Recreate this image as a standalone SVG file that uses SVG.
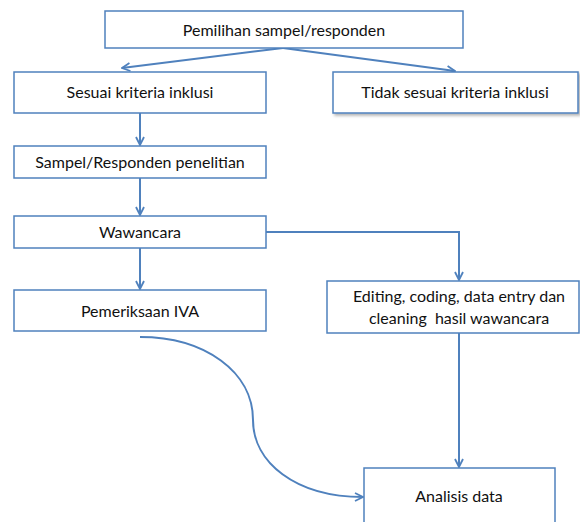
<svg xmlns="http://www.w3.org/2000/svg" width="580" height="522" viewBox="0 0 580 522">
<defs>
<style>
.box{fill:#fff;stroke:#4F81BD;stroke-width:1.5}
.lbl{font-family:Lato,"Liberation Sans",sans-serif;font-size:16px;fill:#111;text-anchor:middle}
.con{fill:none;stroke:#4F81BD;stroke-width:2}
</style>
<marker id="arr" viewBox="0 0 10 10" refX="9" refY="5" markerWidth="10" markerHeight="10" markerUnits="userSpaceOnUse" orient="auto">
<path d="M1,1 L9,5 L1,9" fill="none" stroke="#4F81BD" stroke-width="1.8"/>
</marker>
<filter id="sh" x="-5%" y="-20%" width="115%" height="150%">
<feDropShadow dx="2" dy="2" stdDeviation="1.5" flood-color="#000" flood-opacity="0.3"/>
</filter>
</defs>
<rect width="580" height="522" fill="#fff"/>
<g id="connectors">
<path class="con" d="M283,48 L122,68" marker-end="url(#arr)"/>
<path class="con" d="M283,48 L455,71" marker-end="url(#arr)"/>
<path class="con" d="M140,113 L140,145" marker-end="url(#arr)"/>
<path class="con" d="M140,178 L140,215" marker-end="url(#arr)"/>
<path class="con" d="M140,248 L140,289" marker-end="url(#arr)"/>
<path class="con" d="M266,232 L459,232 L459,280" marker-end="url(#arr)"/>
<path class="con" d="M459,333 L459,467" marker-end="url(#arr)"/>
<path class="con" d="M140,337 C205,337 253,372 253,420 C253,462 295,497 363,497" marker-end="url(#arr)"/>
</g>
<g id="n1"><rect class="box" x="105" y="11" width="358" height="37"/><text class="lbl" x="284" y="36">Pemilihan sampel/responden</text></g>
<g id="n2"><rect class="box" x="14" y="72" width="252" height="41"/><text class="lbl" x="140" y="98">Sesuai kriteria inklusi</text></g>
<g id="n3"><rect class="box" x="333" y="72" width="245" height="41" filter="url(#sh)"/><text class="lbl" x="455" y="98">Tidak sesuai kriteria inklusi</text></g>
<g id="n4"><rect class="box" x="14" y="146" width="252" height="32"/><text class="lbl" x="140" y="168">Sampel/Responden penelitian</text></g>
<g id="n5"><rect class="box" x="14" y="216" width="252" height="32"/><text class="lbl" x="140" y="238">Wawancara</text></g>
<g id="n6"><rect class="box" x="14" y="290" width="252" height="41"/><text class="lbl" x="140" y="317">Pemeriksaan IVA</text></g>
<g id="n7"><rect class="box" x="327" y="281" width="252" height="52"/><text class="lbl" x="459" y="302">Editing, coding, data entry dan</text><text class="lbl" x="459" y="324" xml:space="preserve">cleaning  hasil wawancara</text></g>
<g id="n8"><rect class="box" x="364" y="468" width="191" height="60"/><text class="lbl" x="459" y="502">Analisis data</text></g>
</svg>
